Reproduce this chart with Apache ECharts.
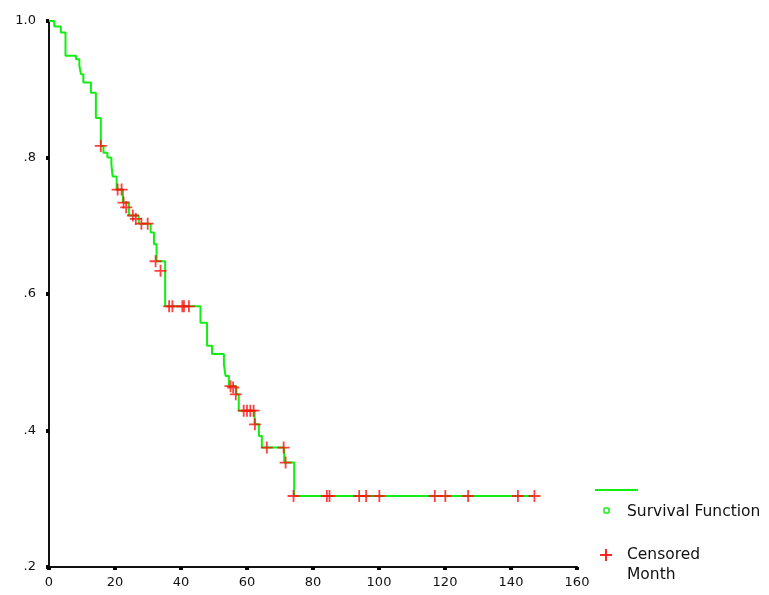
<!DOCTYPE html>
<html>
<head>
<meta charset="utf-8">
<script src="https://cdn.jsdelivr.net/npm/echarts@6/dist/echarts.min.js"></script>
<style>
html,body{margin:0;padding:0;background:#fff;}
#chart{width:769px;height:595px;}
</style>
</head>
<body>
<div id="chart"></div>
<script>
// Kaplan-Meier step points: time (months) and survival after the drop
const stepTimes = [0, 1.6, 3.6, 5.0, 8.2, 9.2, 9.7, 10.4, 12.7, 14.2, 15.7, 16.5, 17.7, 18.9, 19.3, 20.5,
  22.4, 24.2, 27.2, 30.8, 31.8, 32.6, 35.2, 45.9, 47.9, 49.4, 53.0, 53.5, 54.5, 56.8, 57.5, 62.3, 63.6,
  64.5, 71.3, 74.3, 147.1];
const stepSurv = [1.0, 0.992, 0.983, 0.949, 0.944, 0.934, 0.922, 0.910, 0.895, 0.858, 0.817, 0.807, 0.800,
  0.790, 0.772, 0.753, 0.734, 0.715, 0.703, 0.690, 0.673, 0.648, 0.582, 0.558, 0.524, 0.512, 0.497, 0.480,
  0.465, 0.453, 0.429, 0.409, 0.392, 0.375, 0.353, 0.304, 0.304];
// Censored observations
const censTimes = [15.7, 20.8, 22.0, 22.6, 23.4, 25.4, 26.3, 28.0, 29.9, 32.3, 33.8, 36.4, 37.4, 40.4, 40.9,
  42.4, 55.0, 55.8, 56.6, 59.0, 60.0, 61.0, 62.0, 62.4, 66.0, 71.1, 71.7, 74.1, 84.2, 85.0, 94.0, 96.1,
  100.1, 116.9, 120.1, 127.0, 142.1, 147.1];
const censSurv = [0.817, 0.753, 0.753, 0.734, 0.727, 0.715, 0.710, 0.703, 0.703, 0.648, 0.634, 0.582, 0.582,
  0.582, 0.582, 0.582, 0.465, 0.463, 0.453, 0.429, 0.429, 0.429, 0.429, 0.409, 0.375, 0.375, 0.353, 0.304,
  0.304, 0.304, 0.304, 0.304, 0.304, 0.304, 0.304, 0.304, 0.304, 0.304];
const xTicks = [0, 20, 40, 60, 80, 100, 120, 140, 160];
const yTicks = [0.2, 0.4, 0.6, 0.8, 1.0];

const chart = echarts.init(document.getElementById('chart'));
const plus = 'path://M5.1,0H6.9V5.1H12V6.9H6.9V12H5.1V6.9H0V5.1H5.1Z';
const font = '"DejaVu Sans", Verdana, sans-serif';
const green = '#11ee11';
const red = '#ff1010';
chart.setOption({
  animation: false,
  backgroundColor: '#fff',
  grid: {left: 49, right: 192, top: 21, bottom: 28, containLabel: false},
  xAxis: {
    type: 'value', min: xTicks[0], max: xTicks[xTicks.length - 1], interval: 20,
    axisLine: {show: true, lineStyle: {color: '#111', width: 2}},
    axisTick: {show: true, length: 3, lineStyle: {color: '#000', width: 4}},
    axisLabel: {color: '#111', fontSize: 13, fontFamily: font, margin: 9},
    splitLine: {show: false}
  },
  yAxis: {
    type: 'value', min: yTicks[0], max: yTicks[yTicks.length - 1], interval: 0.2,
    axisLine: {show: true, lineStyle: {color: '#111', width: 2}},
    axisTick: {show: true, length: 3, lineStyle: {color: '#000', width: 4}},
    axisLabel: {color: '#111', fontSize: 13, fontFamily: font, margin: 13,
      formatter: v => v >= 0.999 ? '1.0' : v.toFixed(1).replace(/^0/, '')},
    splitLine: {show: false}
  },
  series: [
    {
      name: 'Survival Function', type: 'line', step: 'end', showSymbol: false,
      data: stepTimes.map((t, i) => [t, stepSurv[i]]),
      lineStyle: {color: green, width: 2}, z: 2
    },
    {
      name: 'Censored', type: 'scatter', symbol: plus, symbolSize: 12,
      data: censTimes.map((t, i) => [t, censSurv[i]]),
      itemStyle: {color: red}, z: 3
    }
  ],
  graphic: [
    {type: 'line', shape: {x1: 595, y1: 490, x2: 638, y2: 490}, style: {stroke: green, lineWidth: 2}},
    {type: 'rect', shape: {x: 604, y: 508, width: 5, height: 5, r: 1}, style: {fill: 'none', stroke: green, lineWidth: 1.5}},
    {type: 'text', x: 627, y: 512, style: {text: 'Survival Function', fill: '#111', font: '15.5px ' + font, verticalAlign: 'middle'}},
    {type: 'rect', shape: {x: 600, y: 554.1, width: 12, height: 1.8}, style: {fill: red}},
    {type: 'rect', shape: {x: 605.1, y: 549, width: 1.8, height: 12}, style: {fill: red}},
    {type: 'text', x: 627, y: 555, style: {text: 'Censored', fill: '#111', font: '15.5px ' + font, verticalAlign: 'middle'}},
    {type: 'text', x: 627, y: 575, style: {text: 'Month', fill: '#111', font: '15.5px ' + font, verticalAlign: 'middle'}}
  ]
});
</script>
</body>
</html>
